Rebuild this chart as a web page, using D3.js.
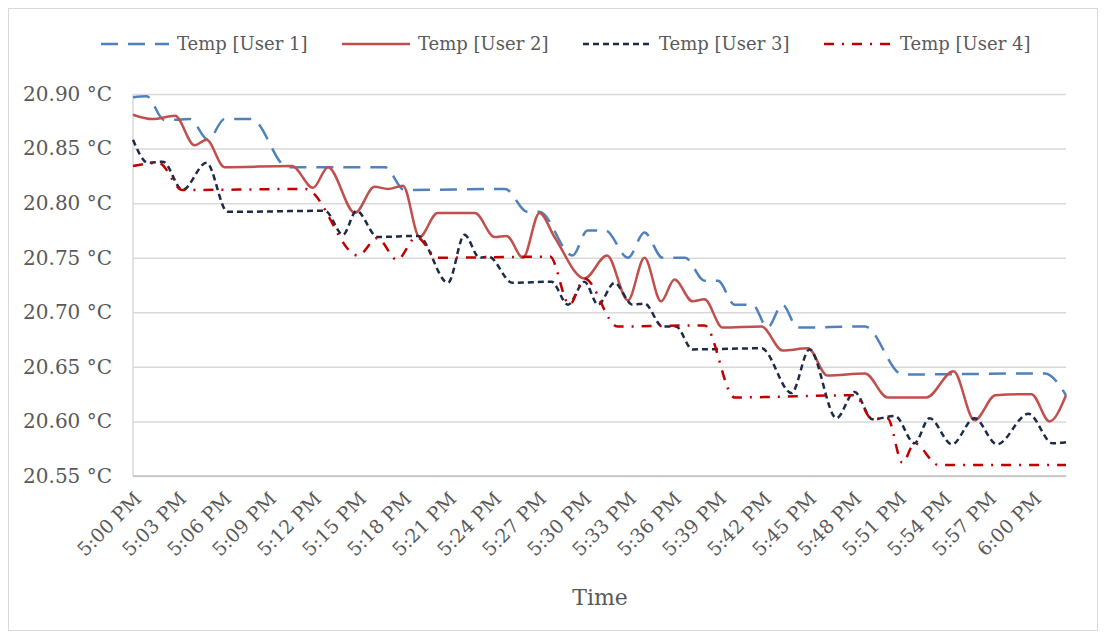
<!DOCTYPE html>
<html>
<head>
<meta charset="utf-8">
<script src="https://cdn.jsdelivr.net/npm/d3@7"></script>
<style>
  body{margin:0;background:#fff}
  svg text{font-family:"DejaVu Serif",serif;fill:#595959}
</style>
</head>
<body>
<svg id="chart" width="1106" height="639"></svg>
<script>
// Temperature readings, minutes after 5:00 PM → °C
var user1=[[0,20.897],[0.9,20.898],[2.1,20.876],[3.8,20.877],[5.0,20.858],[6.1,20.877],[7.9,20.877],
  [10.3,20.833],[16.8,20.833],[18.1,20.812],[24.8,20.813],[26.3,20.792],[27.1,20.792],[29.3,20.752],
  [30.3,20.775],[31.5,20.775],[33.0,20.750],[34.1,20.773],[35.3,20.750],[36.8,20.750],[38.1,20.729],
  [39.0,20.729],[40.1,20.707],[41.3,20.707],[42.3,20.686],[43.3,20.707],[44.3,20.686],[48.8,20.687],
  [51.3,20.643],[60.8,20.644],[62.2,20.624]];
var user2=[[0,20.881],[1.3,20.877],[2.8,20.880],[4.1,20.853],[4.9,20.858],[6.1,20.833],[10.6,20.834],
  [12.0,20.814],[13.0,20.833],[14.8,20.791],[16.1,20.815],[17.0,20.813],[18.0,20.816],[19.1,20.769],
  [20.3,20.791],[22.8,20.791],[24.1,20.769],[24.9,20.770],[26.0,20.750],[27.1,20.791],[28.1,20.769],
  [30.1,20.731],[31.6,20.752],[33.0,20.711],[34.1,20.750],[35.2,20.710],[36.1,20.730],[37.3,20.710],
  [38.1,20.712],[39.3,20.686],[41.9,20.687],[43.3,20.665],[45.0,20.667],[46.3,20.642],[48.8,20.644],
  [50.3,20.622],[52.9,20.622],[54.7,20.646],[56.1,20.601],[57.5,20.624],[59.9,20.625],[61.1,20.600],
  [62.2,20.624]];
var user3=[[0,20.858],[1.0,20.837],[2.0,20.838],[3.3,20.812],[4.9,20.837],[6.3,20.792],[12.8,20.793],
  [14.0,20.771],[14.9,20.793],[16.3,20.769],[19.0,20.770],[21.0,20.727],[22.1,20.771],[23.1,20.750],
  [23.7,20.751],[25.3,20.727],[27.9,20.728],[29.0,20.707],[30.1,20.728],[31.0,20.707],[32.1,20.727],
  [33.3,20.707],[34.1,20.708],[35.3,20.687],[36.2,20.687],[37.3,20.666],[41.9,20.667],[43.9,20.626],
  [45.1,20.666],[46.9,20.603],[48.1,20.627],[49.3,20.602],[50.8,20.605],[52.1,20.580],[53.1,20.603],
  [54.6,20.579],[56.1,20.603],[57.6,20.579],[59.7,20.607],[61.3,20.580],[62.2,20.581]];
var user4=[[0,20.834],[1.7,20.837],[3.3,20.812],[11.5,20.813],[15.0,20.752],[16.3,20.768],[17.6,20.748],
  [18.9,20.769],[20.3,20.750],[27.8,20.751],[29.1,20.707],[30.1,20.731],[32.3,20.687],[38.1,20.688],
  [40.1,20.622],[48.1,20.624],[49.3,20.602],[50.3,20.603],[51.3,20.562],[52.1,20.580],[53.7,20.560],
  [62.2,20.560]];

var seriesNames=["Temp [User 1]","Temp [User 2]","Temp [User 3]","Temp [User 4]"];
var tickMinutes=[0,3,6,9,12,15,18,21,24,27,30,33,36,39,42,45,48,51,54,57,60];
var tickLabels=["5:00 PM","5:03 PM","5:06 PM","5:09 PM","5:12 PM","5:15 PM","5:18 PM","5:21 PM",
  "5:24 PM","5:27 PM","5:30 PM","5:33 PM","5:36 PM","5:39 PM","5:42 PM","5:45 PM","5:48 PM",
  "5:51 PM","5:54 PM","5:57 PM","6:00 PM"];
var tempTicks=[20.55,20.60,20.65,20.70,20.75,20.80,20.85,20.90];

// ── styles par série ──
var STYLES=[
  {color:"#4f81bd",dash:"17,10"},
  {color:"#c0504d",dash:null},
  {color:"#1c2b47",dash:"6,4"},
  {color:"#c00000",dash:"10,8,2,8"}
];
var SERIES=[user1,user2,user3,user4];

var L=133,R=1066,T=94,B=476;
var svg=d3.select("#chart");

svg.append("rect").attr("x",8.5).attr("y",8.5).attr("width",1089).attr("height",622)
  .attr("fill","#fff").attr("stroke","#d9d9d9").attr("stroke-width",1);

var x=d3.scaleLinear().domain([0,62.2]).range([L,R]);
var y=d3.scaleLinear().domain([20.55,20.90]).range([B,T]);

// grille + étiquettes Y
var gy=svg.append("g").attr("transform","translate("+L+",0)")
  .call(d3.axisLeft(y).tickValues(tempTicks).tickSize(-(R-L)).tickPadding(21)
    .tickFormat(function(d){return d3.format(".2f")(d)+" °C";}));
gy.select(".domain").remove();
gy.selectAll(".tick line").attr("stroke","#d9d9d9").attr("stroke-width",1.5);
gy.selectAll(".tick text").attr("font-size",20).attr("font-family","DejaVu Serif").attr("fill","#595959");

// axe vertical gauche et axe bas
svg.append("line").attr("x1",L).attr("x2",L).attr("y1",T).attr("y2",B)
  .attr("stroke","#d9d9d9").attr("stroke-width",1.5);
svg.append("line").attr("x1",L).attr("x2",R).attr("y1",B).attr("y2",B)
  .attr("stroke","#bfbfbf").attr("stroke-width",1.5);

// étiquettes X (pivotées -45°)
var gx=svg.append("g").attr("transform","translate(0,"+B+")")
  .call(d3.axisBottom(x).tickValues(tickMinutes).tickSize(0)
    .tickFormat(function(d,i){return tickLabels[i];}));
gx.select(".domain").remove();
gx.selectAll(".tick text")
  .attr("font-size",19).attr("font-family","DejaVu Serif").attr("fill","#595959")
  .attr("text-anchor","end").attr("dy",null).attr("y",0)
  .attr("transform","translate(9,24) rotate(-45)");

svg.append("text").attr("x",600).attr("y",605).attr("text-anchor","middle")
  .attr("font-size",22).text("Time");

// courbes lissées
var line=d3.line().x(function(d){return x(d[0]);}).y(function(d){return y(d[1]);})
  .curve(d3.curveMonotoneX);
svg.append("g").selectAll("path").data(SERIES).enter().append("path")
  .attr("d",line).attr("fill","none")
  .attr("stroke",function(d,i){return STYLES[i].color;})
  .attr("stroke-width",2.5)
  .attr("stroke-dasharray",function(d,i){return STYLES[i].dash;});

// légende
var lg=svg.append("g").selectAll("g").data(seriesNames).enter().append("g")
  .attr("transform",function(d,i){return "translate("+(101+i*241)+",44)";});
lg.append("line").attr("x1",0).attr("x2",68).attr("y1",0).attr("y2",0)
  .attr("stroke",function(d,i){return STYLES[i].color;}).attr("stroke-width",2.5)
  .attr("stroke-dasharray",function(d,i){return STYLES[i].dash;});
lg.append("text").attr("x",76).attr("y",0).attr("dy","0.35em").attr("font-size",18)
  .text(function(d){return d;});
</script>
</body>
</html>
